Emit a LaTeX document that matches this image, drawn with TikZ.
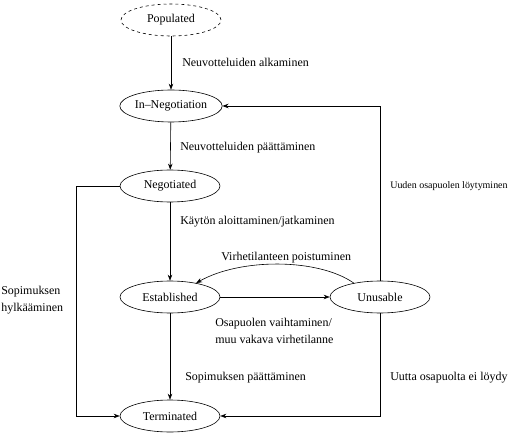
\documentclass[tikz,border=0pt]{standalone}
\usepackage{fontspec}
\setmainfont{Liberation Serif}
\usetikzlibrary{shapes.geometric,arrows.meta}
\begin{document}
\begin{tikzpicture}[x=1bp,y=-1bp,
  state/.style={draw,ellipse,minimum width=100bp,minimum height=32bp,inner sep=0pt,font=\fontsize{12}{17}\selectfont},
  lbl/.style={anchor=west,inner sep=0pt,font=\fontsize{12}{17}\selectfont},
  arr/.style={-{Stealth[length=6bp,width=4.5bp]},line width=0.6bp},
  every path/.style={line width=0.6bp}]
\useasboundingbox (0,0) rectangle (513,436);
\node[state,dashed] (pop) at (171,20) {Populated};
\node[state] (inneg) at (171,106) {In--Negotiation};
\node[state] (neg) at (170,186) {Negotiated};
\node[state] (est) at (170,297) {Established};
\node[state] (unus) at (380,297) {Unusable};
\node[state] (term) at (170,416) {Terminated};
\coordinate (c1) at (76,186);
\coordinate (c2) at (380,106);
\draw[arr] (pop) -- (inneg);
\draw[arr] (inneg) -- (neg);
\draw[arr] (neg) -- (est);
\draw[arr] (est) -- (term);
\draw[arr] (est) -- (unus);
\draw[arr] (neg.west) -- (c1) |- (term.west);
\draw[arr] (unus.north) -- (c2) -- (inneg.east);
\draw[arr] (unus.south) |- (term.east);
\draw[arr] (unus.152) .. controls (318,258) and (240,258) .. (est.28);
\node[lbl] (l1) at (182,62) {Neuvotteluiden alkaminen};
\node[lbl] (l2) at (180,148) {Neuvotteluiden päättäminen};
\node[lbl] (l3) at (180,222) {Käytön aloittaminen/jatkaminen};
\node[lbl] (l4) at (221,258) {Virhetilanteen poistuminen};
\node[lbl,align=left] (l5) at (215,331) {Osapuolen vaihtaminen/\\muu vakava virhetilanne};
\node[lbl] (l6) at (185,378) {Sopimuksen päättäminen};
\node[lbl] (l7) at (390,378) {Uutta osapuolta ei löydy};
\node[lbl,font=\fontsize{10}{12}\selectfont] (l8) at (390,186) {Uuden osapuolen löytyminen};
\node[lbl,align=left] (l9) at (1,300) {Sopimuksen\\hylkääminen};
\end{tikzpicture}
\end{document}
